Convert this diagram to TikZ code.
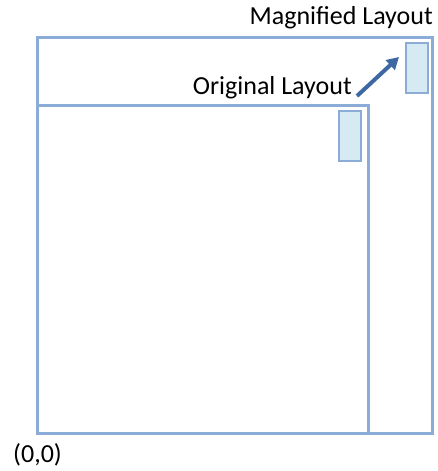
\documentclass[tikz,border=0pt]{standalone}
\usepackage{fontspec}
\setmainfont{Carlito}
\usetikzlibrary{arrows.meta}
\definecolor{boxline}{RGB}{140,172,216}
\definecolor{boxfill}{RGB}{214,234,244}
\definecolor{arrowblue}{RGB}{62,104,164}
\begin{document}
\begin{tikzpicture}[x=1pt,y=-1pt,
  frame/.style={draw=boxline,line width=3pt},
  cell/.style={draw=boxline,fill=boxfill,line width=2.8pt},
  lbl/.style={font=\fontsize{26}{30}\selectfont,inner sep=0pt}]
\useasboundingbox (0,0) rectangle (438,471);
\draw[frame] (37,37) rectangle (432,433);
\draw[frame] (37,105) rectangle (368,433);
\draw[cell] (339,111) rectangle (361,161);
\draw[cell] (406,43) rectangle (428,93);
\node[lbl,anchor=east] (mag) at (433,18) {Magnified Layout};
\node[lbl,anchor=east] (orig) at (352,88) {Original Layout};
\node[lbl,anchor=west] (origin) at (13,455) {(0,0)};
\coordinate (as) at (357,96);
\coordinate (ae) at (399,57);
\draw[arrowblue,line width=4pt,-{Triangle[length=12pt,width=13pt]}] (as) -- (ae);
\end{tikzpicture}
\end{document}
